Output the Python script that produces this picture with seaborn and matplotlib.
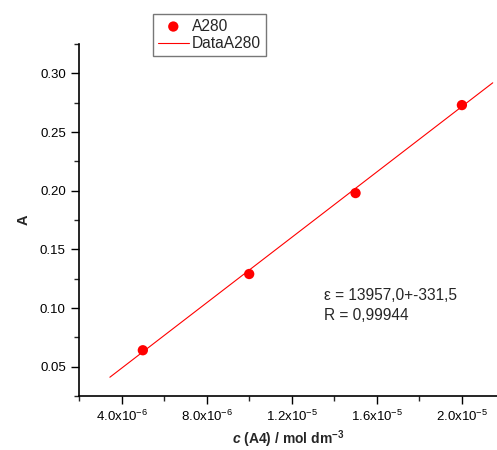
import numpy as np
import pandas as pd
import matplotlib
matplotlib.use('Agg')
import matplotlib.pyplot as plt
import seaborn as sns
from matplotlib.ticker import FixedLocator, AutoMinorLocator

# measured points (A280)
conc = [5.0e-6, 1.0e-5, 1.5e-5, 2.0e-5]
absorb = [0.064, 0.129, 0.198, 0.273]

# linear fit line, end points
fit_conc = [3.45e-6, 2.145e-5]
fit_abs = [0.041, 0.292]

# tick labels
xtick_vals = [4.0e-6, 8.0e-6, 1.2e-5, 1.6e-5, 2.0e-5]
xtick_labels = [r'4.0x10$^{-6}$', r'8.0x10$^{-6}$', r'1.2x10$^{-5}$',
                r'1.6x10$^{-5}$', r'2.0x10$^{-5}$']
ytick_vals = [0.05, 0.10, 0.15, 0.20, 0.25, 0.30]
ytick_labels = ['0.05', '0.10', '0.15', '0.20', '0.25', '0.30']

fit_text = ['\u03b5 = 13957,0+-331,5', 'R = 0,99944']

sns.set_style('ticks')
plt.rcParams['font.family'] = ['Liberation Sans', 'DejaVu Sans']
plt.rcParams['mathtext.fontset'] = 'custom'
plt.rcParams['mathtext.rm'] = 'Liberation Sans'
plt.rcParams['mathtext.it'] = 'Liberation Sans:italic:bold'
plt.rcParams['mathtext.bf'] = 'Liberation Sans:bold'

df = pd.DataFrame({'c': conc, 'A': absorb})
df_fit = pd.DataFrame({'c': fit_conc, 'A': fit_abs})

fig = plt.figure(figsize=(4.97, 4.5), dpi=100)
ax = fig.add_axes([0.159, 0.12, 0.841, 0.782])

sns.lineplot(data=df_fit, x='c', y='A', color='red', linewidth=0.8,
             label='DataA280', ax=ax)
sns.scatterplot(data=df, x='c', y='A', color='red', s=55, edgecolor='none',
                label='A280', ax=ax, zorder=3)

ax.set_xlim(2.0e-6, 2.165e-5)
ax.set_ylim(0.025, 0.325)

ax.xaxis.set_major_locator(FixedLocator(xtick_vals))
ax.set_xticklabels(xtick_labels)
ax.xaxis.set_minor_locator(AutoMinorLocator(2))
ax.yaxis.set_major_locator(FixedLocator(ytick_vals))
ax.set_yticklabels(ytick_labels)
ax.yaxis.set_minor_locator(AutoMinorLocator(2))

ax.tick_params(which='major', direction='out', length=6, width=1,
               color='black', labelcolor='black', labelsize=9.5)
ax.tick_params(which='minor', direction='out', length=3.5, width=1)
sns.despine(ax=ax)
for s in ['left', 'bottom']:
    ax.spines[s].set_linewidth(1.2)
    ax.spines[s].set_color('black')

ax.set_xlabel(r'$\mathit{c}$ (A4) / mol dm$^{\mathbf{-3}}$', fontsize=10,
              fontweight='bold', labelpad=3)
ax.set_ylabel('A', fontsize=10.5, fontweight='bold', labelpad=7)

fig.text(0.652, 0.344, fit_text[0], fontsize=11.2, va='center', ha='left')
fig.text(0.652, 0.298, fit_text[1], fontsize=11.2, va='center', ha='left')

handles, labels = ax.get_legend_handles_labels()
ax.get_legend().remove()
order = [labels.index('A280'), labels.index('DataA280')]
leg = fig.legend([handles[i] for i in order], [labels[i] for i in order],
                 loc='upper left', bbox_to_anchor=(0.308, 0.969),
                 fontsize=11.2, frameon=True, fancybox=False,
                 borderpad=0.3, handlelength=2.0, handletextpad=0.2,
                 labelspacing=0.18, borderaxespad=0)
leg.get_frame().set_edgecolor('#555555')
leg.get_frame().set_linewidth(1.0)

fig.savefig('out.png', dpi=100)
